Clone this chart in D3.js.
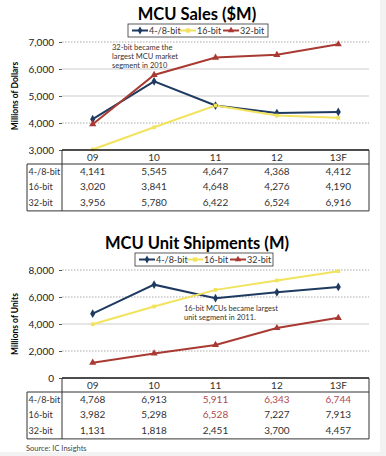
<!DOCTYPE html>
<html>
<head>
<meta charset="utf-8">
<script src="https://cdn.jsdelivr.net/npm/d3@7"></script>
<style>
  body { margin: 0; background: #f2f2f2; }
  svg { display: block; font-family: Lato, "Open Sans", sans-serif; }
</style>
</head>
<body>
<svg id="chart" width="386" height="456"></svg>
<script>
// categories and series
var years = ["09", "10", "11", "12", "13F"];
var seriesNames = ["4-/8-bit", "16-bit", "32-bit"];

var salesBit48 = [4141, 5545, 4647, 4368, 4412];
var salesBit16 = [3020, 3841, 4648, 4276, 4190];
var salesBit32 = [3956, 5780, 6422, 6524, 6916];
var salesTicks = [3000, 4000, 5000, 6000, 7000];

var unitsBit48 = [4768, 6913, 5911, 6343, 6744];
var unitsBit16 = [3982, 5298, 6528, 7227, 7913];
var unitsBit32 = [1131, 1818, 2451, 3700, 4457];
var unitsTicks = [0, 2000, 4000, 6000, 8000];
// table cells printed in red in the shipments table: [row, col]
var unitsRedCells = [[0, 2], [0, 3], [0, 4], [1, 2]];

var colors = ["#1f3a60", "#f2e35e", "#a93a33"];
var fmt = d3.format(",");

var svg = d3.select("#chart");

// white page with grey strip right and bottom
svg.append("rect").attr("x", 0).attr("y", 0).attr("width", 380).attr("height", 452).attr("fill", "#fff");

function drawPanel(opt) {
    var g = svg.append("g");
    var left = 62, right = 369;

    var x = d3.scaleBand().domain(years).range([left, right]);
    var y = d3.scaleLinear().domain(opt.domain).range([opt.bottom, opt.top]);

    // title
    g.append("text")
        .attr("x", 197).attr("y", opt.titleY)
        .attr("text-anchor", "middle")
        .attr("font-size", 16.5).attr("font-weight", "bold")
        .text(opt.title);

    // gridlines
    opt.ticks.forEach(function (t, i) {
        if (t === opt.domain[0]) return;
        g.append("line")
            .attr("x1", left).attr("x2", right)
            .attr("y1", y(t)).attr("y2", y(t))
            .attr("stroke", opt.dotted[i] ? "#aaa" : "#ccc")
            .attr("stroke-dasharray", opt.dotted[i] ? "1.5,1.5" : null);
    });

    // y axis
    var yAxis = g.append("g")
        .attr("transform", "translate(" + left + ",0)")
        .call(d3.axisLeft(y).tickValues(opt.ticks).tickFormat(fmt).tickSize(3));
    yAxis.select(".domain").remove();
    yAxis.selectAll("line").attr("stroke", "#555");
    yAxis.selectAll("text").attr("font-size", 10).attr("font-family", "Lato, 'Open Sans', sans-serif")
        .attr("fill", "#222").attr("x", -8);

    // y label
    g.append("text")
        .attr("transform", "translate(18," + ((opt.top + opt.bottom) / 2) + ") rotate(-90)")
        .attr("text-anchor", "middle")
        .attr("font-size", 8.5).attr("font-weight", "bold")
        .text(opt.yLabel);

    // lines
    var series = [opt.s48, opt.s16, opt.s32];
    var line = d3.line()
        .x(function (d, i) { return x(years[i]) + x.bandwidth() / 2; })
        .y(function (d) { return y(d); });
    series.forEach(function (s, k) {
        g.append("path")
            .attr("d", line(s))
            .attr("fill", "none")
            .attr("stroke", colors[k])
            .attr("stroke-width", 2);
    });
    series.forEach(function (s, k) {
        var sym = [d3.symbolDiamond, d3.symbolSquare, d3.symbolTriangle][k];
        g.selectAll(null).data(s).enter().append("path")
            .attr("transform", function (d, i) {
                return "translate(" + (x(years[i]) + x.bandwidth() / 2) + "," + y(d) + ")";
            })
            .attr("d", d3.symbol().type(sym).size(k === 1 ? 14 : 22))
            .attr("fill", colors[k]);
    });

    // legend
    var lg = g.append("g").attr("transform", "translate(" + opt.legendX + "," + opt.legendY + ")");
    lg.append("rect").attr("width", opt.legendW).attr("height", 13)
        .attr("fill", "#fff").attr("stroke", "#333").attr("stroke-width", 0.8);
    var offs = [4, 52, 95];
    seriesNames.forEach(function (n, k) {
        var ox = offs[k];
        lg.append("line").attr("x1", ox).attr("x2", ox + 16).attr("y1", 6.5).attr("y2", 6.5)
            .attr("stroke", colors[k]).attr("stroke-width", 2);
        lg.append("path")
            .attr("transform", "translate(" + (ox + 8) + ",6.5)")
            .attr("d", d3.symbol().type([d3.symbolDiamond, d3.symbolSquare, d3.symbolTriangle][k]).size(18))
            .attr("fill", colors[k]);
        lg.append("text").attr("x", ox + 17).attr("y", 10)
            .attr("font-size", 9).attr("fill", "#333").text(n);
    });

    // annotation
    opt.note.forEach(function (t, i) {
        g.append("text")
            .attr("x", opt.noteX).attr("y", opt.noteY + i * 9)
            .attr("font-size", 7.5).attr("fill", "#333")
            .text(t);
    });

    // data table
    var tb = opt.bottom, hl = tb + 14, rowH = 15.3, tEnd = hl + rowH * 3 + 1;
    g.append("line").attr("x1", left).attr("x2", right).attr("y1", tb).attr("y2", tb)
        .attr("stroke", "#111").attr("stroke-width", 1.3);
    g.append("line").attr("x1", 27).attr("x2", right).attr("y1", hl).attr("y2", hl).attr("stroke", "#333");
    g.append("line").attr("x1", 27).attr("x2", right).attr("y1", tEnd).attr("y2", tEnd).attr("stroke", "#333");
    g.append("line").attr("x1", 27).attr("x2", 27).attr("y1", hl).attr("y2", tEnd).attr("stroke", "#333");
    g.append("line").attr("x1", left).attr("x2", left).attr("y1", tb).attr("y2", tEnd).attr("stroke", "#333");
    g.append("line").attr("x1", right).attr("x2", right).attr("y1", tb).attr("y2", tEnd).attr("stroke", "#333");

    years.forEach(function (c) {
        g.append("text")
            .attr("x", x(c) + x.bandwidth() / 2).attr("y", tb + 11)
            .attr("text-anchor", "middle").attr("font-size", 10).attr("fill", "#333")
            .text(c);
    });
    series.forEach(function (s, r) {
        var ty = hl + rowH * r + 11;
        g.append("text").attr("x", 28.5).attr("y", ty)
            .attr("font-size", 9).attr("fill", "#333").text(seriesNames[r]);
        s.forEach(function (v, i) {
            var red = opt.redCells.some(function (rc) { return rc[0] === r && rc[1] === i; });
            g.append("text")
                .attr("x", x(years[i]) + x.bandwidth() / 2).attr("y", ty)
                .attr("text-anchor", "middle").attr("font-size", 10)
                .attr("fill", red ? "#b04a50" : "#333")
                .text(fmt(v));
        });
    });
}

drawPanel({
    title: "MCU Sales ($M)", titleY: 20,
    domain: [3000, 7000], ticks: salesTicks, dotted: [false, true, false, false, true],
    top: 42, bottom: 150,
    yLabel: "Millions of Dollars",
    s48: salesBit48, s16: salesBit16, s32: salesBit32,
    legendX: 128, legendY: 24, legendW: 140,
    note: ["32-bit became the", "largest MCU market", "segment in 2010"], noteX: 112, noteY: 50,
    redCells: []
});

drawPanel({
    title: "MCU Unit Shipments (M)", titleY: 249,
    domain: [0, 8000], ticks: unitsTicks, dotted: [false, true, false, true, true],
    top: 270, bottom: 378,
    yLabel: "Millions of Units",
    s48: unitsBit48, s16: unitsBit16, s32: unitsBit32,
    legendX: 135, legendY: 253, legendW: 138,
    note: ["16-bit MCUs became largest", "unit segment in 2011."], noteX: 184, noteY: 311,
    redCells: unitsRedCells
});

svg.append("text").attr("x", 26).attr("y", 451)
    .attr("font-size", 7.5).attr("fill", "#444")
    .text("Source:  IC Insights");
</script>
</body>
</html>
